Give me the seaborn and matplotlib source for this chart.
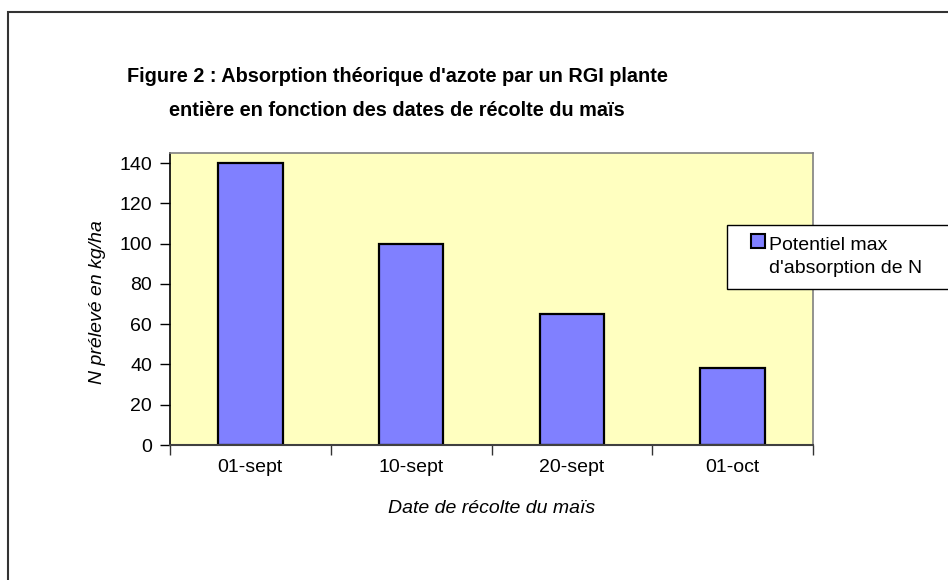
import pandas as pd
import seaborn as sns
import matplotlib.pyplot as plt
from matplotlib.patches import Rectangle, Patch
from matplotlib.legend_handler import HandlerPatch

# data
dates = ['01-sept', '10-sept', '20-sept', '01-oct']
n_absorbed = [140, 100, 65, 38]
series_label = "Potentiel max\nd'absorption de N"
title_lines = ["Figure 2 : Absorption théorique d'azote par un RGI plante",
               "entière en fonction des dates de récolte du maïs"]

df = pd.DataFrame({'date': dates, 'N': n_absorbed})

sns.set_theme(style='white')
plt.rcParams['font.family'] = ['Liberation Sans', 'DejaVu Sans']
plt.rcParams['text.color'] = 'black'
plt.rcParams['axes.labelcolor'] = 'black'
plt.rcParams['xtick.color'] = 'black'
plt.rcParams['ytick.color'] = 'black'

fig = plt.figure(figsize=(9.48, 5.80), dpi=100)
ax = fig.add_axes([170 / 948, 1 - 445 / 580, (813 - 170) / 948, (445 - 153) / 580])

# Excel-like plot area
ax.set_facecolor('#FFFFC0')
sns.barplot(data=df, x='date', y='N', color='#8080FF', saturation=1,
            edgecolor='black', linewidth=1.6, width=0.4, ax=ax)

ax.set_xlim(-0.5, len(dates) - 0.5)
ax.set_ylim(0, 145)
ax.set_yticks(range(0, 141, 20))
ax.tick_params(axis='y', which='major', left=True, length=7, width=1,
               color='black', labelsize=14, pad=6)

# category boundary ticks, labels in between
ax.set_xticks([i - 0.5 for i in range(len(dates) + 1)])
ax.set_xticklabels([])
ax.set_xticks(range(len(dates)), minor=True)
ax.set_xticklabels(dates, minor=True)
ax.tick_params(axis='x', which='major', bottom=True, length=7, width=1, color='#333333')
ax.tick_params(axis='x', which='minor', bottom=False, length=0, labelsize=14, pad=10)

for side in ['top', 'right']:
    ax.spines[side].set_color('#808080')
    ax.spines[side].set_linewidth(1.2)
ax.spines['left'].set_color('black')
ax.spines['bottom'].set_color('#404040')
ax.spines['left'].set_linewidth(1.2)
ax.spines['bottom'].set_linewidth(1.5)

ax.set_xlabel('Date de récolte du maïs', fontstyle='italic', fontsize=14)
ax.set_ylabel('N prélevé en kg/ha', fontstyle='italic', fontsize=14)
ax.xaxis.set_label_coords(0.5, -0.19)
ax.yaxis.set_label_coords(-0.1, 0.49)

for line, ypix in zip(title_lines, [77, 110]):
    fig.text(397 / 948, 1 - ypix / 580, line, ha='center', va='center',
             fontsize=14.3, fontweight='bold')


def top_square(legend, orig_handle, xdescent, ydescent, width, height, fontsize):
    # square sitting on the first line of the label, right of the handle box
    side = 0.72 * fontsize
    return Rectangle((width - side - xdescent, -ydescent + 0.8 * fontsize), side, side)


handle = Patch(facecolor='#8080FF', edgecolor='black', linewidth=1.5)
leg = fig.legend([handle], [series_label], loc='upper left',
                 bbox_to_anchor=(727 / 948, 1 - 225 / 580, (970 - 727) / 948, 0),
                 mode='expand', fontsize=14,
                 frameon=True, fancybox=False, shadow=False, framealpha=1,
                 borderpad=0.6, handlelength=1.35, handleheight=0.75,
                 handletextpad=0.2, borderaxespad=0,
                 handler_map={Patch: HandlerPatch(patch_func=top_square)})
leg.get_frame().set_edgecolor('black')
leg.get_frame().set_linewidth(1)
for t in leg.get_texts():
    t.set_linespacing(1.5)

# outer chart frame
frame = Rectangle((8 / 948, -0.1), 1.2, 1 - 12 / 580 + 0.1, transform=fig.transFigure,
                  fill=False, edgecolor='#333333', linewidth=1.5, clip_on=False)
fig.patches.append(frame)

plt.savefig('out.png', dpi=100)
